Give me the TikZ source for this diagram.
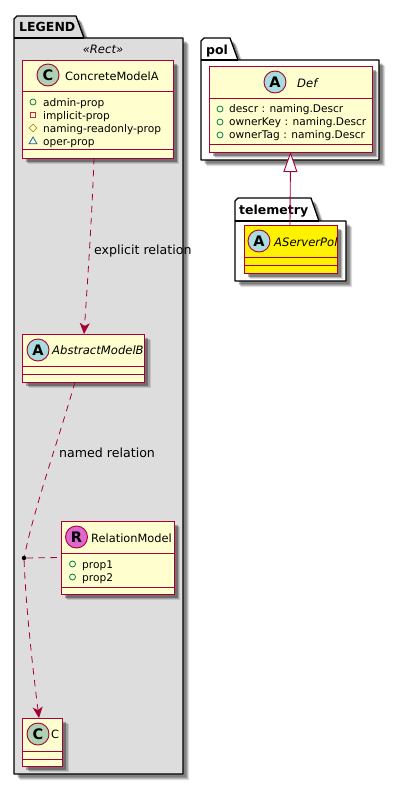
\documentclass[tikz,border=0pt]{standalone}
\usepackage{fontspec}
\setmainfont{DejaVu Sans}
\usetikzlibrary{arrows.meta, shadows, shapes.geometric}
\definecolor{umlred}{HTML}{A80036}
\definecolor{umlcream}{HTML}{FEFECE}
\definecolor{umlgrey}{HTML}{DDDDDD}
\definecolor{icongreen}{HTML}{ADD1B2}
\definecolor{iconblue}{HTML}{A9DCDF}
\definecolor{iconpink}{HTML}{DE68CE}
\definecolor{vispub}{HTML}{038048}
\definecolor{vispriv}{HTML}{C82930}
\definecolor{visprot}{HTML}{B38D22}
\definecolor{vispack}{HTML}{1963A0}

\begin{document}
\begin{tikzpicture}[x=1pt, y=-1pt,
        softshadow/.style={drop shadow={shadow xshift=6pt, shadow yshift=-6pt, fill=black, opacity=0.12},
                    drop shadow={shadow xshift=5pt, shadow yshift=-5pt, fill=black, opacity=0.18},
                    drop shadow={shadow xshift=3.5pt, shadow yshift=-3.5pt, fill=black, opacity=0.3}},
        pkg/.style={draw=black, line width=1.3pt, line join=round, softshadow},
        pkgname/.style={font=\fontsize{12.5}{14}\selectfont\bfseries, anchor=base west, inner sep=0pt},
        cls/.style={draw=umlred, line width=0.9pt, fill=umlcream, anchor=north west,
                    inner sep=0pt, outer sep=0pt, softshadow},
        divider/.style={draw=umlred, line width=0.9pt},
        clsname/.style={font=\fontsize{11.4}{14}\selectfont, anchor=base west, inner sep=0pt},
        clsitalic/.style={clsname, font=\fontsize{11.6}{14}\selectfont\itshape},
        member/.style={font=\fontsize{10.6}{12}\selectfont, anchor=base west, inner sep=0pt},
        badge/.style={circle, draw=umlred, line width=0.9pt, minimum size=22pt, inner sep=0pt,
                    font=\fontsize{14.5}{16}\selectfont\bfseries},
        vis/.style={inner sep=0pt, line width=0.8pt},
        pub/.style={vis, circle, draw=vispub, minimum size=6pt},
        priv/.style={vis, rectangle, draw=vispriv, minimum size=5.5pt},
        prot/.style={vis, diamond, draw=visprot, minimum size=8pt},
        pack/.style={vis, regular polygon, regular polygon sides=3, draw=vispack, minimum size=9pt},
        rel/.style={draw=umlred, line width=0.8pt, dash pattern=on 6.5pt off 5.5pt},
        relhead/.style={rel, -{Stealth[length=11pt, width=10pt, inset=3pt, color=umlred, fill=umlred]}},
        linklabel/.style={font=\fontsize{12.6}{14}\selectfont, anchor=base west, inner sep=0pt}
    ]
    \useasboundingbox (0, 0) rectangle (400, 785);

    % packages
    \draw[pkg, fill=umlgrey] (14, 38) -- (14, 19) -- (17, 16) -- (76, 16) -- (84, 38)
        -- (183, 38) -- (183, 774) -- (14, 774) -- cycle;
    \draw[pkg, fill=white] (201, 60) -- (201, 41) -- (204, 38) -- (230, 38) -- (238, 60)
        -- (379, 60) -- (379, 160) -- (201, 160) -- cycle;
    \draw[pkg, fill=white] (235, 221) -- (235, 201) -- (238, 198) -- (311, 198) -- (319, 221)
        -- (346, 221) -- (346, 281) -- (235, 281) -- cycle;
    \draw[black, line width=1.3pt] (14, 38) -- (84, 38) (201, 60) -- (238, 60) (235, 221) -- (319, 221);
    \node[pkgname] (legendname) at (19, 31) {LEGEND};
    \node[pkgname] (polname) at (206, 54) {pol};
    \node[pkgname] (telemetryname) at (239, 214) {telemetry};
    \node[font=\fontsize{11.6}{14}\selectfont\itshape, inner sep=0pt] (rectname) at (103, 49) {«Rect»};

    % ConcreteModelA
    \node[cls, minimum width=151pt, minimum height=98pt] (concretea) at (22, 60) {};
    \draw[divider] (22, 91) -- (173, 91) (22, 149) -- (173, 149);
    \node[badge, fill=icongreen] (concreteicon) at (48, 75) {C};
    \node[clsname] (concretename) at (65, 80) {ConcreteModelA};
    \node[pub] (adminicon) at (33, 102) {};
    \node[member] (admin) at (43, 106) {admin-prop};
    \node[priv] (implicticon) at (33, 115) {};
    \node[member] (implicit) at (43, 119) {implicit-prop};
    \node[prot] (namingicon) at (33, 128) {};
    \node[member] (naming) at (43, 132) {naming-readonly-prop};
    \node[pack] (opericon) at (33, 141.5) {};
    \node[member] (oper) at (43, 145) {oper-prop};

    % AbstractModelB
    \node[cls, minimum width=122pt, minimum height=48pt] (abstractb) at (22.5, 334) {};
    \draw[divider] (22.5, 366) -- (144.5, 366) (22.5, 374) -- (144.5, 374);
    \node[badge, fill=iconblue] (abstracticon) at (38, 350) {A};
    \node[clsitalic] (abstractname) at (52, 354) {AbstractModelB};

    % RelationModel
    \node[cls, minimum width=113pt, minimum height=73pt] (relmodel) at (61, 521) {};
    \draw[divider] (61, 553) -- (174, 553) (61, 587) -- (174, 587);
    \node[badge, fill=iconpink] (relicon) at (76.5, 537) {R};
    \node[clsname] (relname) at (91, 542) {RelationModel};
    \node[pub] (prop1icon) at (72.5, 564) {};
    \node[member] (prop1) at (82, 568) {prop1};
    \node[pub] (prop2icon) at (72.5, 577) {};
    \node[member] (prop2) at (82, 581) {prop2};

    % C
    \node[cls, minimum width=40pt, minimum height=48pt] (classc) at (22.5, 718) {};
    \draw[divider] (22.5, 751) -- (62.5, 751) (22.5, 759) -- (62.5, 759);
    \node[badge, fill=icongreen] (classcicon) at (38, 734) {C};
    \node[clsname] (classcname) at (51, 738) {C};

    % Def
    \node[cls, minimum width=163pt, minimum height=86pt] (poldef) at (209, 66) {};
    \draw[divider] (209, 98) -- (372, 98) (209, 144) -- (372, 144);
    \node[badge, fill=iconblue] (deficon) at (275, 82) {A};
    \node[clsitalic] (defname) at (297, 87) {Def};
    \node[pub] (descricon) at (220, 109) {};
    \node[member] (descr) at (229, 112) {descr : naming.Descr};
    \node[pub] (ownerkeyicon) at (220, 122) {};
    \node[member] (ownerkey) at (229, 125) {ownerKey : naming.Descr};
    \node[pub] (ownertagicon) at (220, 135) {};
    \node[member] (ownertag) at (229, 138) {ownerTag : naming.Descr};

    % AServerPol
    \node[cls, fill=yellow, minimum width=93pt, minimum height=48pt] (serverpol) at (244, 225) {};
    \draw[divider] (244, 257) -- (337, 257) (244, 265) -- (337, 265);
    \node[badge, fill=iconblue] (servericon) at (259, 241) {A};
    \node[clsitalic] (servername) at (274, 246) {AServerPol};

    % relations
    \node[circle, fill=black, minimum size=4.5pt, inner sep=0pt] (reldot) at (24, 558) {};
    \draw[relhead] ([xshift=-3.5pt]concretea.south) .. controls (92, 215) and (88, 275) .. ([xshift=0.5pt]abstractb.north);
    \draw[rel] ([xshift=-8.5pt]abstractb.south) .. controls (60, 435) and (35, 505) .. (reldot);
    \draw[rel] (reldot) -- (relmodel.west);
    \draw[relhead] (reldot) .. controls (26, 610) and (33, 670) .. ([xshift=-3.5pt]classc.north);
    \draw[draw=umlred, line width=0.9pt, -{Triangle[open, length=20pt, width=14pt, fill=white]}]
        ([xshift=-0.5pt]serverpol.north) -- (poldef.south);

    \node[linklabel] (explicitlabel) at (94, 254) {explicit relation};
    \node[linklabel] (namedlabel) at (59, 457) {named relation};
\end{tikzpicture}
\end{document}
